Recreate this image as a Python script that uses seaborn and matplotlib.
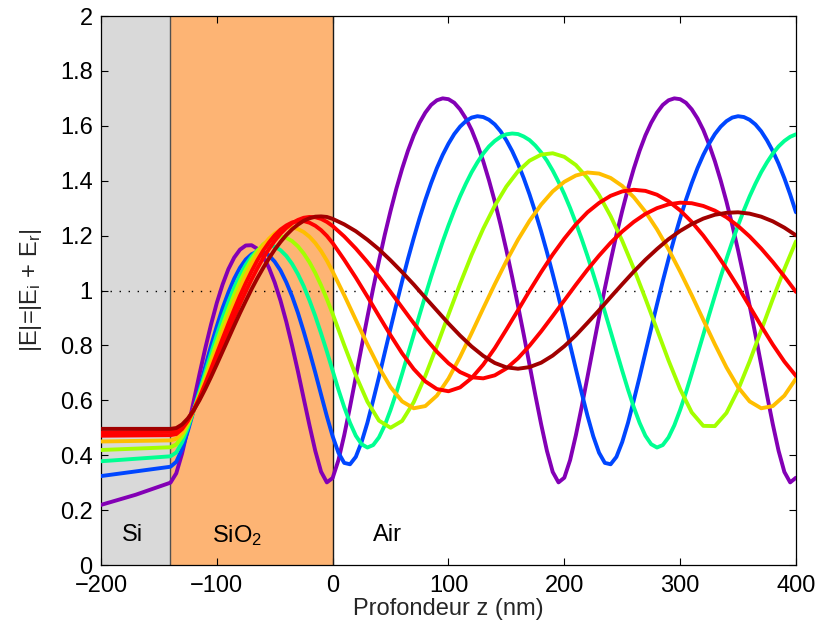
import matplotlib
matplotlib.use("Agg")
import matplotlib.pyplot as plt
import pandas as pd
import seaborn as sns

z_fine = [-200, -170] + list(range(-140, 1, 5)) + list(range(5, 401, 5))
z_coarse = [-200, -170] + list(range(-140, 1, 5)) + list(range(10, 401, 10))

# |E| for each wavelength
E_400 = [0.219, 0.256,
         0.300, 0.334, 0.406, 0.498, 0.596, 0.695, 0.789, 0.876, 0.955, 1.022, 1.078, 1.120, 1.149,
         1.164, 1.165, 1.152, 1.124, 1.083, 1.029, 0.963, 0.886, 0.799, 0.706, 0.607, 0.509, 0.416,
         0.340, 0.301, 0.317,
         0.382, 0.473, 0.576, 0.685, 0.795, 0.903, 1.008, 1.108, 1.203, 1.290, 1.371, 1.444, 1.509,
         1.565, 1.611, 1.648, 1.676, 1.693, 1.700, 1.697, 1.684, 1.660, 1.627, 1.585, 1.532, 1.471,
         1.401, 1.324, 1.239, 1.147, 1.049, 0.945, 0.839, 0.729, 0.619, 0.513, 0.416, 0.339, 0.301,
         0.318,
         0.382, 0.473, 0.576, 0.685, 0.795, 0.903, 1.008, 1.108, 1.203, 1.290, 1.371, 1.444, 1.509,
         1.565, 1.611, 1.648, 1.676, 1.693, 1.700, 1.697, 1.684, 1.660, 1.627, 1.585, 1.532, 1.471,
         1.401, 1.324, 1.239, 1.147, 1.049, 0.945, 0.839, 0.729, 0.619, 0.513, 0.416, 0.339, 0.301,
         0.318]
E_450 = [0.324, 0.341,
         0.358, 0.376, 0.422, 0.488, 0.563, 0.642, 0.722, 0.799, 0.870, 0.936, 0.993, 1.043, 1.083,
         1.113, 1.132, 1.142, 1.140, 1.128, 1.105, 1.073, 1.030, 0.979, 0.919, 0.851, 0.778, 0.701,
         0.621, 0.542, 0.469,
         0.409, 0.372, 0.367, 0.394, 0.448, 0.518, 0.600, 0.685, 0.774, 0.862, 0.949, 1.034, 1.115,
         1.191, 1.263, 1.330, 1.391, 1.446, 1.494, 1.535, 1.570, 1.597, 1.617, 1.630, 1.635, 1.632,
         1.622, 1.605, 1.580, 1.547, 1.508, 1.462, 1.409, 1.350, 1.285, 1.215, 1.140, 1.060, 0.977,
         0.891, 0.802, 0.714, 0.627, 0.544, 0.469,
         0.409, 0.372, 0.367, 0.394, 0.448, 0.518, 0.600, 0.685, 0.774, 0.862, 0.949, 1.034, 1.115,
         1.191, 1.263, 1.330, 1.391, 1.446, 1.494, 1.535, 1.570, 1.597, 1.617, 1.630, 1.635, 1.632,
         1.622, 1.605, 1.580, 1.547, 1.508, 1.462, 1.409, 1.350, 1.285]
E_500 = [0.378, 0.387,
         0.396, 0.410, 0.447, 0.500, 0.563, 0.631, 0.702, 0.771, 0.838, 0.902, 0.959, 1.011, 1.056,
         1.094, 1.124, 1.146, 1.159, 1.164, 1.160, 1.147, 1.126, 1.097, 1.060, 1.016, 0.964, 0.907,
         0.844, 0.778, 0.708,
         0.639, 0.575, 0.518, 0.471, 0.440, 0.428, 0.437, 0.465, 0.509, 0.565, 0.628, 0.697, 0.768,
         0.839, 0.911, 0.981, 1.050, 1.115, 1.178, 1.237, 1.292, 1.343, 1.389, 1.431, 1.467, 1.499,
         1.525, 1.545, 1.560, 1.569, 1.572, 1.570, 1.561, 1.548, 1.528, 1.503, 1.473, 1.437, 1.396,
         1.351, 1.301, 1.246, 1.188, 1.126, 1.060, 0.992, 0.922, 0.851, 0.779, 0.708,
         0.639, 0.575, 0.518, 0.471, 0.440, 0.428, 0.437, 0.465, 0.509, 0.565, 0.628, 0.697, 0.768,
         0.839, 0.911, 0.981, 1.050, 1.115, 1.178, 1.237, 1.292, 1.343, 1.389, 1.431, 1.467, 1.499,
         1.525, 1.545, 1.560, 1.569]
E_550 = [0.419, 0.424,
         0.429, 0.439, 0.467, 0.510, 0.563, 0.623, 0.686, 0.749, 0.813, 0.873, 0.931, 0.985, 1.033,
         1.076, 1.113, 1.144, 1.168, 1.184, 1.194, 1.197, 1.192, 1.180, 1.161, 1.135, 1.103, 1.064,
         1.019, 0.969, 0.915,
         0.801, 0.691, 0.595, 0.526, 0.500, 0.525, 0.593, 0.689, 0.798, 0.912, 1.024, 1.130, 1.225,
         1.309, 1.379, 1.434, 1.473, 1.495, 1.500, 1.487, 1.457, 1.410, 1.348, 1.271, 1.181, 1.080,
         0.971, 0.858, 0.745, 0.641, 0.556, 0.507, 0.506, 0.554, 0.638, 0.742, 0.855, 0.969, 1.078,
         1.179]
E_600 = [0.450, 0.452,
         0.454, 0.460, 0.482, 0.518, 0.563, 0.616, 0.673, 0.732, 0.791, 0.849, 0.905, 0.959, 1.009,
         1.055, 1.096, 1.132, 1.163, 1.189, 1.208, 1.221, 1.229, 1.230, 1.224, 1.213, 1.196, 1.173,
         1.144, 1.109, 1.069,
         0.983, 0.893, 0.804, 0.720, 0.648, 0.596, 0.571, 0.579, 0.617, 0.679, 0.758, 0.845, 0.935,
         1.023, 1.107, 1.185, 1.254, 1.313, 1.361, 1.396, 1.419, 1.430, 1.426, 1.410, 1.381, 1.340,
         1.287, 1.223, 1.150, 1.069, 0.983, 0.893, 0.804, 0.720, 0.648, 0.596, 0.571, 0.579, 0.617,
         0.679]
E_650 = [0.471, 0.472,
         0.473, 0.477, 0.495, 0.525, 0.564, 0.610, 0.661, 0.715, 0.770, 0.825, 0.879, 0.931, 0.981,
         1.027, 1.070, 1.110, 1.145, 1.175, 1.201, 1.222, 1.237, 1.248, 1.253, 1.253, 1.247, 1.236,
         1.220, 1.199, 1.173,
         1.112, 1.047, 0.978, 0.907, 0.837, 0.771, 0.714, 0.669, 0.641, 0.633, 0.647, 0.681, 0.730,
         0.790, 0.858, 0.928, 0.999, 1.067, 1.131, 1.189, 1.241, 1.285, 1.319, 1.345, 1.361, 1.367,
         1.363, 1.349, 1.325, 1.292, 1.250, 1.200, 1.143, 1.080, 1.013, 0.942, 0.871, 0.803, 0.741,
         0.689]
E_700 = [0.483, 0.484,
         0.485, 0.488, 0.504, 0.529, 0.564, 0.605, 0.650, 0.699, 0.750, 0.801, 0.852, 0.902, 0.951,
         0.997, 1.040, 1.081, 1.118, 1.151, 1.181, 1.207, 1.228, 1.245, 1.257, 1.265, 1.268, 1.267,
         1.261, 1.250, 1.235,
         1.197, 1.153, 1.104, 1.051, 0.995, 0.938, 0.881, 0.826, 0.777, 0.735, 0.703, 0.684, 0.680,
         0.691, 0.716, 0.753, 0.799, 0.851, 0.907, 0.964, 1.021, 1.076, 1.127, 1.174, 1.215, 1.250,
         1.279, 1.300, 1.314, 1.320, 1.318, 1.308, 1.291, 1.267, 1.235, 1.197, 1.153, 1.104, 1.051,
         0.995]
E_750 = [0.496, 0.496,
         0.496, 0.499, 0.512, 0.534, 0.564, 0.600, 0.641, 0.685, 0.731, 0.778, 0.825, 0.872, 0.918,
         0.962, 1.005, 1.045, 1.082, 1.117, 1.149, 1.177, 1.202, 1.223, 1.240, 1.254, 1.263, 1.269,
         1.270, 1.268, 1.261,
         1.241, 1.216, 1.185, 1.150, 1.110, 1.067, 1.022, 0.974, 0.927, 0.880, 0.836, 0.796, 0.762,
         0.736, 0.720, 0.715, 0.721, 0.737, 0.763, 0.797, 0.837, 0.882, 0.928, 0.976, 1.023, 1.069,
         1.112, 1.151, 1.187, 1.217, 1.242, 1.262, 1.276, 1.283, 1.285, 1.280, 1.269, 1.252, 1.229,
         1.201]

wavelengths = ["400", "450", "500", "550", "600", "650", "700", "750"]
series = [E_400, E_450, E_500, E_550, E_600, E_650, E_700, E_750]
grids = [z_fine, z_fine, z_fine, z_coarse, z_coarse, z_coarse, z_coarse, z_coarse]
line_colors = ["#8300B5", "#0046FF", "#00FF92", "#A3FF00", "#FFBE00", "#FF0000", "#FF0000", "#A10000"]

layer_names = ["Si", "SiO$_2$", "Air"]
layer_edges = [-200, -140, 0, 400]
label_x = [-182, -104, 35]

xticks = [-200, -100, 0, 100, 200, 300, 400]
yticks = [0, 0.2, 0.4, 0.6, 0.8, 1, 1.2, 1.4, 1.6, 1.8, 2]
ytick_labels = ["0", "0.2", "0.4", "0.6", "0.8", "1", "1.2", "1.4", "1.6", "1.8", "2"]

rows = []
for lam, zs, vals in zip(wavelengths, grids, series):
    for z, e in zip(zs, vals):
        rows.append({"z": z, "E": e, "lam": lam})
df = pd.DataFrame(rows)

sns.set_theme(style="ticks")
plt.rcParams["font.family"] = ["Liberation Sans", "DejaVu Sans"]
plt.rcParams["mathtext.default"] = "regular"
FS = 17

fig = plt.figure(figsize=(8.21, 6.28), dpi=100)
ax = fig.add_axes([0.1230, 0.1003, 0.8465, 0.8742])

ax.axvspan(layer_edges[0], layer_edges[1], color="#D9D9D9", lw=0, zorder=0)
ax.axvspan(layer_edges[1], layer_edges[2], color="#FDB474", lw=0, zorder=0)
ax.axvline(layer_edges[1], color="#505050", lw=1.0, zorder=1)
ax.axvline(layer_edges[2], color="#1a1a1a", lw=1.0, zorder=1)
ax.axhline(1, color="black", lw=1.0, linestyle=(0, (1, 5.5)), zorder=1)

sns.lineplot(data=df, x="z", y="E", hue="lam", palette=dict(zip(wavelengths, line_colors)),
             estimator=None, sort=False, lw=2.8, legend=False, ax=ax, zorder=3)

ax.set_xlim(-200, 400)
ax.set_ylim(0, 2)
ax.set_xticks(xticks)
ax.set_yticks(yticks)
ax.set_yticklabels(ytick_labels)
ax.tick_params(direction="in", top=True, right=True, length=5, width=0.8,
               labelsize=FS, colors="black")
ax.tick_params(axis="y", pad=6)
ax.tick_params(axis="x", pad=7)
for s in ax.spines.values():
    s.set_color("black")
    s.set_linewidth(0.9)

ax.set_xlabel("Profondeur z (nm)", fontsize=FS, labelpad=1)
ax.set_ylabel("|E|=|E$_i$ + E$_r$|", fontsize=FS, labelpad=11)

for name, x in zip(layer_names, label_x):
    ax.text(x, 0.108, name, fontsize=FS, va="center", ha="left", color="black", zorder=4)

fig.savefig("out.png", dpi=100)
